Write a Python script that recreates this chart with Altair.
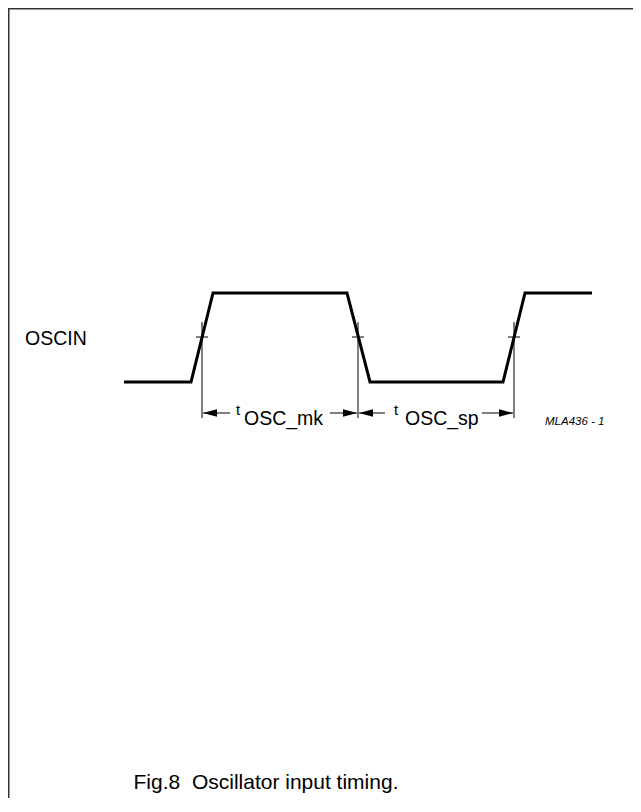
import altair as alt
import pandas as pd

W, H = 625, 790
OFF = 8  # page margin: reference coordinates are read in page pixels

# Waveform OSCIN (page pixel units)
wave_x = [124, 191, 213, 347, 370, 503, 525, 592]
wave_y = [382, 382, 293, 293, 382, 382, 293, 293]

# Crossing reference lines
cross_x = [202, 358, 514]
cross_y = 337
vline_top, vline_bot = 322, 418
tick_half = 6

# Dimension arrows: (shaft start, tip)
arrow_y = 413
arrows_left = [(230, 203), (385, 359)]   # pointing left
arrows_right = [(330, 357), (482, 513)]  # pointing right

# Labels
labels_t = ["t", "t"]
labels_t_x = [236, 394]
labels_t_y = [415, 415]
labels_sub = ["OSC_mk", "OSC_sp"]
labels_sub_x = [244, 405]
labels_sub_y = [425, 425]

signal_name = "OSCIN"
signal_pos = (25, 345)
ref_code = "MLA436 - 1"
ref_pos = (545, 425)
caption = "Fig.8\u00a0 Oscillator input timing."
caption_pos = (266, 789)

FONT = "Liberation Sans"

def px(v):
    return v - OFF

xs = alt.Scale(domain=[0, W], nice=False, zero=False)
ys = alt.Scale(domain=[0, H], nice=False, zero=False, reverse=True)
X = lambda f="x": alt.X(f"{f}:Q", scale=xs, axis=None)
Y = lambda f="y": alt.Y(f"{f}:Q", scale=ys, axis=None)

# frame (top and left edges visible; right and bottom lie outside the picture)
frame = pd.DataFrame({"x": [0, 0.5], "y": [0.5, 0], "x2": [W, 0.5], "y2": [0.5, H]})
frame_layer = alt.Chart(frame).mark_rule(color="#333333", strokeWidth=2).encode(
    x=X(), y=Y(), x2="x2:Q", y2="y2:Q")

wave = pd.DataFrame({"x": [px(v) for v in wave_x], "y": [px(v) for v in wave_y],
                     "i": list(range(len(wave_x)))})
wave_layer = alt.Chart(wave).mark_line(color="black", strokeWidth=3, strokeJoin="miter").encode(
    x=X(), y=Y(), order="i:Q")

segs = []
for cx in cross_x:
    segs.append({"x": px(cx), "y": px(vline_top), "x2": px(cx), "y2": px(vline_bot)})
    segs.append({"x": px(cx - tick_half), "y": px(cross_y), "x2": px(cx + tick_half), "y2": px(cross_y)})
for s, t in arrows_left + arrows_right:
    segs.append({"x": px(s), "y": px(arrow_y), "x2": px(t), "y2": px(arrow_y)})
seg_layer = alt.Chart(pd.DataFrame(segs)).mark_rule(color="black", strokeWidth=1).encode(
    x=X(), y=Y(), x2="x2:Q", y2="y2:Q")

HEAD = 14
heads_l = pd.DataFrame({"x": [px(t) + HEAD / 2 for s, t in arrows_left], "y": [px(arrow_y)] * len(arrows_left)})
heads_r = pd.DataFrame({"x": [px(t) - HEAD / 2 for s, t in arrows_right], "y": [px(arrow_y)] * len(arrows_right)})
head_l_layer = alt.Chart(heads_l).mark_point(
    shape="M-1,0L1,-0.55L1,0.55Z", filled=True, color="black", opacity=1, size=HEAD * HEAD, strokeWidth=0
).encode(x=X(), y=Y())
head_r_layer = alt.Chart(heads_r).mark_point(
    shape="M1,0L-1,-0.55L-1,0.55Z", filled=True, color="black", opacity=1, size=HEAD * HEAD, strokeWidth=0
).encode(x=X(), y=Y())

t_df = pd.DataFrame({"x": [px(v) for v in labels_t_x], "y": [px(v) for v in labels_t_y], "label": labels_t})
t_layer = alt.Chart(t_df).mark_text(font=FONT, fontSize=15, align="left", baseline="alphabetic",
                                     color="black").encode(x=X(), y=Y(), text="label:N")
sub_df = pd.DataFrame({"x": [px(v) for v in labels_sub_x], "y": [px(v) for v in labels_sub_y], "label": labels_sub})
sub_layer = alt.Chart(sub_df).mark_text(font=FONT, fontSize=19.5, align="left", baseline="alphabetic",
                                         color="black").encode(x=X(), y=Y(), text="label:N")

sig_df = pd.DataFrame({"x": [px(signal_pos[0])], "y": [px(signal_pos[1])], "label": [signal_name]})
sig_layer = alt.Chart(sig_df).mark_text(font=FONT, fontSize=19.5, align="left", baseline="alphabetic",
                                         color="black").encode(x=X(), y=Y(), text="label:N")

ref_df = pd.DataFrame({"x": [px(ref_pos[0])], "y": [px(ref_pos[1])], "label": [ref_code]})
ref_layer = alt.Chart(ref_df).mark_text(font=FONT, fontSize=11.5, fontStyle="italic", align="left",
                                         baseline="alphabetic", color="black").encode(x=X(), y=Y(), text="label:N")

cap_df = pd.DataFrame({"x": [px(caption_pos[0])], "y": [px(caption_pos[1])], "label": [caption]})
cap_layer = alt.Chart(cap_df).mark_text(font=FONT, fontSize=21, align="center", baseline="alphabetic",
                                         color="black").encode(x=X(), y=Y(), text="label:N")

chart = alt.layer(
    frame_layer, wave_layer, seg_layer, head_l_layer, head_r_layer,
    t_layer, sub_layer, sig_layer, ref_layer, cap_layer
).properties(
    width=W, height=H, padding=0, autosize=alt.AutoSizeParams(type="none")
).configure(
    background="white",
    view=alt.ViewConfig(stroke="transparent", strokeWidth=0),
)

chart.save("out.html", embed_options={"renderer": "svg", "actions": False})
